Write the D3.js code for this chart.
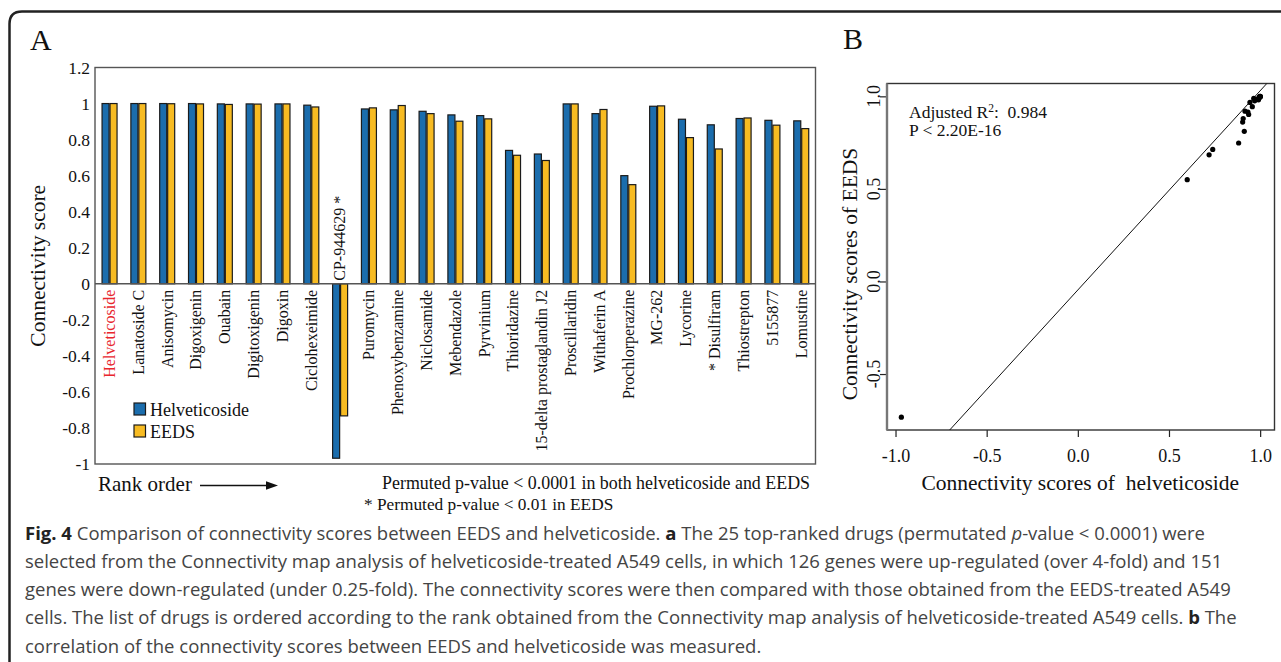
<!DOCTYPE html>
<html>
<head>
<meta charset="utf-8">
<script src="https://cdn.jsdelivr.net/npm/d3@7"></script>
<style>
  html, body { margin: 0; padding: 0; background: #fff; }
  svg { display: block; }
  .serif { font-family: "Liberation Serif", "Times New Roman", serif; fill: #111; }
  .cap { font-family: "Open Sans", "Noto Sans", sans-serif; fill: #444; }
</style>
</head>
<body>
<svg id="fig" width="1281" height="662"></svg>
<script>
// drugs in rank order (Connectivity map, helveticoside-treated A549)
const drugs = ['Helveticoside', 'Lanatoside C', 'Anisomycin', 'Digoxigenin', 'Ouabain',
  'Digitoxigenin', 'Digoxin', 'Ciclohexeimide', 'CP-944629 *', 'Puromycin',
  'Phenoxybenzamine', 'Niclosamide', 'Mebendazole', 'Pyrvinium', 'Thioridazine',
  '15-delta prostaglandin J2', 'Proscillaridin', 'Withaferin A', 'Prochlorperazine', 'MG-262',
  'Lycorine', '* Disulfiram', 'Thiostrepton', '5155877', 'Lomustine'];
const helveticoside = [1.0, 1.0, 1.0, 1.0, 0.998, 0.998, 0.998, 0.991, -0.968, 0.970,
  0.965, 0.957, 0.937, 0.933, 0.740, 0.720, 0.998, 0.944, 0.600, 0.985,
  0.913, 0.882, 0.917, 0.907, 0.904];
const eeds = [1.0, 1.0, 0.999, 0.998, 0.995, 0.997, 0.998, 0.981, -0.733, 0.976,
  0.989, 0.944, 0.902, 0.915, 0.713, 0.684, 0.998, 0.967, 0.550, 0.987,
  0.811, 0.748, 0.920, 0.880, 0.861];
const barTicks = [-1, -0.8, -0.6, -0.4, -0.2, 0, 0.2, 0.4, 0.6, 0.8, 1, 1.2];
const scatterXTicks = [-1, -0.5, 0, 0.5, 1];
const scatterYTicks = [-0.5, 0, 0.5, 1];
// fitted line drawn in panel B
const fitIntercept = -0.046;
const fitSlope = 1.076;
const seriesNames = ['Helveticoside', 'EEDS'];
const colors = ['#1b6dad', '#f7bb22'];

const svg = d3.select('#fig');

// outer frame
svg.append('path')
  .attr('d', 'M1295,11.5 H22 Q9.5,11.5 9.5,24 V680')
  .attr('fill', 'none').attr('stroke', '#222').attr('stroke-width', 2.5);

// ---------- panel A ----------
svg.append('text').attr('class', 'serif').attr('x', 30).attr('y', 49.5)
  .style('font-size', '30px').text('A');

const plotA = { left: 95, right: 815.5, top: 67.5, bottom: 464 };
const x = d3.scaleBand().domain(drugs).range([plotA.left, plotA.right]);
const xSub = d3.scaleBand().domain(seriesNames)
  .range([x.bandwidth() * 0.245, x.bandwidth() * 0.765]).paddingInner(0.12);
const y = d3.scaleLinear().domain([-1, 1.2]).range([plotA.bottom, plotA.top]);

const gA = svg.append('g');

gA.append('rect')
  .attr('x', plotA.left).attr('y', plotA.top)
  .attr('width', plotA.right - plotA.left).attr('height', plotA.bottom - plotA.top)
  .attr('fill', 'none').attr('stroke', '#555').attr('stroke-width', 1.4);

const yAxis = gA.append('g')
  .attr('transform', `translate(${plotA.left},0)`)
  .call(d3.axisLeft(y).tickValues(barTicks).tickSize(0).tickPadding(5)
    .tickFormat(d => String(+d.toFixed(1))));
yAxis.select('.domain').remove();
yAxis.selectAll('text')
  .attr('class', 'serif')
  .style('font-size', '17.5px')
  .attr('dy', '0.34em');

gA.append('text').attr('class', 'serif')
  .attr('transform', `translate(45,${(plotA.top + plotA.bottom) / 2}) rotate(-90)`)
  .attr('text-anchor', 'middle')
  .style('font-size', '21.5px')
  .text('Connectivity score');

const rows = drugs.map((d, i) => ({ drug: d, values: [helveticoside[i], eeds[i]] }));

const groups = gA.selectAll('g.grp')
  .data(rows)
  .join('g')
  .attr('class', 'grp')
  .attr('transform', d => `translate(${x(d.drug)},0)`);

groups.selectAll('rect')
  .data(d => d.values.map((v, j) => ({ key: seriesNames[j], v, j })))
  .join('rect')
  .attr('x', d => xSub(d.key))
  .attr('width', xSub.bandwidth())
  .attr('y', d => y(Math.max(0, d.v)))
  .attr('height', d => Math.abs(y(d.v) - y(0)))
  .attr('fill', d => colors[d.j])
  .attr('stroke', '#1b1b1b')
  .attr('stroke-width', 1.2);

// zero line
gA.append('line')
  .attr('x1', plotA.left).attr('x2', plotA.right)
  .attr('y1', y(0)).attr('y2', y(0))
  .attr('stroke', '#555').attr('stroke-width', 1.4);

// category labels
gA.selectAll('text.cat')
  .data(rows)
  .join('text')
  .attr('class', 'serif cat')
  .attr('transform', d => {
    const cx = x(d.drug) + x.bandwidth() / 2;
    return d.values[0] < 0
      ? `translate(${cx},${y(0) - 3}) rotate(-90)`
      : `translate(${cx},${y(0) + 6}) rotate(-90)`;
  })
  .attr('text-anchor', d => d.values[0] < 0 ? 'start' : 'end')
  .attr('dy', '0.34em')
  .style('font-size', '16px')
  .style('fill', (d, i) => i === 0 ? '#e8262d' : '#111')
  .text(d => d.drug);

// legend
const legend = gA.append('g').attr('transform', 'translate(134,403)');
seriesNames.forEach((name, i) => {
  legend.append('rect')
    .attr('x', 0).attr('y', i * 22).attr('width', 11.5).attr('height', 12)
    .attr('fill', colors[i]).attr('stroke', '#1b1b1b').attr('stroke-width', 1.2);
  legend.append('text').attr('class', 'serif')
    .attr('x', 16).attr('y', i * 22 + 12.5)
    .style('font-size', '18px').text(name);
});

// rank order arrow
gA.append('text').attr('class', 'serif').attr('x', 98).attr('y', 491)
  .style('font-size', '21px').text('Rank order');
gA.append('line').attr('x1', 200).attr('x2', 268).attr('y1', 485.5).attr('y2', 485.5)
  .attr('stroke', '#111').attr('stroke-width', 1.3);
gA.append('path').attr('d', 'M278,485.5 L266,481.2 L266,489.8 Z').attr('fill', '#111');

gA.append('text').attr('class', 'serif').attr('x', 810).attr('y', 489)
  .attr('text-anchor', 'end')
  .style('font-size', '17.9px')
  .text('Permuted p-value < 0.0001 in both helveticoside and EEDS');
gA.append('text').attr('class', 'serif').attr('x', 364).attr('y', 509.5)
  .style('font-size', '17.3px')
  .text('* Permuted p-value < 0.01 in EEDS');

// ---------- panel B ----------
svg.append('text').attr('class', 'serif').attr('x', 843).attr('y', 48.5)
  .style('font-size', '30px').text('B');

const plotB = { left: 887, right: 1274.5, top: 83.5, bottom: 430 };
const pad = e => { const r = e[1] - e[0]; return [e[0] - 0.04 * r, e[1] + 0.04 * r]; };
const sx = d3.scaleLinear().domain(pad(d3.extent(helveticoside))).range([plotB.left, plotB.right]);
const sy = d3.scaleLinear().domain(pad(d3.extent(eeds))).range([plotB.bottom, plotB.top]);

const gB = svg.append('g');

gB.append('clipPath').attr('id', 'clipB')
  .append('rect')
  .attr('x', plotB.left).attr('y', plotB.top)
  .attr('width', plotB.right - plotB.left).attr('height', plotB.bottom - plotB.top);

const xAxisB = gB.append('g')
  .attr('transform', `translate(0,${plotB.bottom})`)
  .call(d3.axisBottom(sx).tickValues(scatterXTicks).tickSize(7).tickPadding(12)
    .tickFormat(d => d.toFixed(1)));
xAxisB.select('.domain').remove();
xAxisB.selectAll('line').attr('stroke', '#222').attr('stroke-width', 1.2);
xAxisB.selectAll('text').attr('class', 'serif').style('font-size', '18px');

const yAxisB = gB.append('g')
  .attr('transform', `translate(${plotB.left},0)`)
  .call(d3.axisLeft(sy).tickValues(scatterYTicks).tickSize(7).tickFormat(''));
yAxisB.select('.domain').remove();
yAxisB.selectAll('line').attr('stroke', '#222').attr('stroke-width', 1.2);

gB.selectAll('text.ytickB')
  .data(scatterYTicks)
  .join('text')
  .attr('class', 'serif ytickB')
  .attr('transform', d => `translate(${plotB.left - 7},${sy(d)}) rotate(-90)`)
  .attr('text-anchor', 'middle')
  .style('font-size', '18px')
  .text(d => d.toFixed(1));

gB.append('rect')
  .attr('x', plotB.left).attr('y', plotB.top)
  .attr('width', plotB.right - plotB.left).attr('height', plotB.bottom - plotB.top)
  .attr('fill', 'none').attr('stroke', '#333').attr('stroke-width', 1.4);
gB.append('line')
  .attr('x1', plotB.left).attr('x2', plotB.left)
  .attr('y1', plotB.top).attr('y2', plotB.bottom)
  .attr('stroke', '#777').attr('stroke-width', 2.4);

const lineX = sx.domain();
gB.append('line')
  .attr('clip-path', 'url(#clipB)')
  .attr('x1', sx(lineX[0])).attr('y1', sy(fitIntercept + fitSlope * lineX[0]))
  .attr('x2', sx(lineX[1])).attr('y2', sy(fitIntercept + fitSlope * lineX[1]))
  .attr('stroke', '#111').attr('stroke-width', 1);

gB.selectAll('circle')
  .data(helveticoside.map((h, i) => [h, eeds[i]]))
  .join('circle')
  .attr('cx', d => sx(d[0]))
  .attr('cy', d => sy(d[1]))
  .attr('r', 2.6)
  .attr('fill', '#000');

const ann = gB.append('text').attr('class', 'serif').attr('x', 909).attr('y', 117.5)
  .style('font-size', '17.5px');
ann.append('tspan').text('Adjusted R');
ann.append('tspan').attr('dy', -6).style('font-size', '11.5px').text('2');
ann.append('tspan').attr('dy', 6).text(':\u00a0\u00a00.984');
gB.append('text').attr('class', 'serif').attr('x', 909).attr('y', 135.5)
  .style('font-size', '17.5px').text('P < 2.20E-16');

gB.append('text').attr('class', 'serif')
  .attr('x', (plotB.left + plotB.right) / 2 - 0.5).attr('y', 490)
  .attr('text-anchor', 'middle')
  .style('font-size', '21.5px')
  .text('Connectivity scores of\u00a0 helveticoside');
gB.append('text').attr('class', 'serif')
  .attr('transform', `translate(857,274) rotate(-90)`)
  .attr('text-anchor', 'middle')
  .style('font-size', '21.5px')
  .text('Connectivity scores of EEDS');

// ---------- caption ----------
const captionLines = [
  [['b', 'Fig. 4'], ['n', ' Comparison of connectivity scores between EEDS and helveticoside. '], ['b', 'a'],
   ['n', ' The 25 top-ranked drugs (permutated '], ['i', 'p'], ['n', '-value < 0.0001) were']],
  [['n', 'selected from the Connectivity map analysis of helveticoside-treated A549 cells, in which 126 genes were up-regulated (over 4-fold) and 151']],
  [['n', 'genes were down-regulated (under 0.25-fold). The connectivity scores were then compared with those obtained from the EEDS-treated A549']],
  [['n', 'cells. The list of drugs is ordered according to the rank obtained from the Connectivity map analysis of helveticoside-treated A549 cells. '], ['b', 'b'], ['n', ' The']],
  [['n', 'correlation of the connectivity scores between EEDS and helveticoside was measured.']]
];
const cap = svg.append('g');
captionLines.forEach((parts, i) => {
  const t = cap.append('text').attr('class', 'cap')
    .attr('x', 25).attr('y', 539.5 + i * 28.3)
    .style('font-size', '18.5px')
    .attr('xml:space', 'preserve');
  parts.forEach(([k, s]) => {
    const ts = t.append('tspan').text(s);
    if (k === 'b') ts.style('font-weight', 'bold').style('fill', '#222');
    if (k === 'i') ts.style('font-style', 'italic');
  });
});
</script>
</body>
</html>
